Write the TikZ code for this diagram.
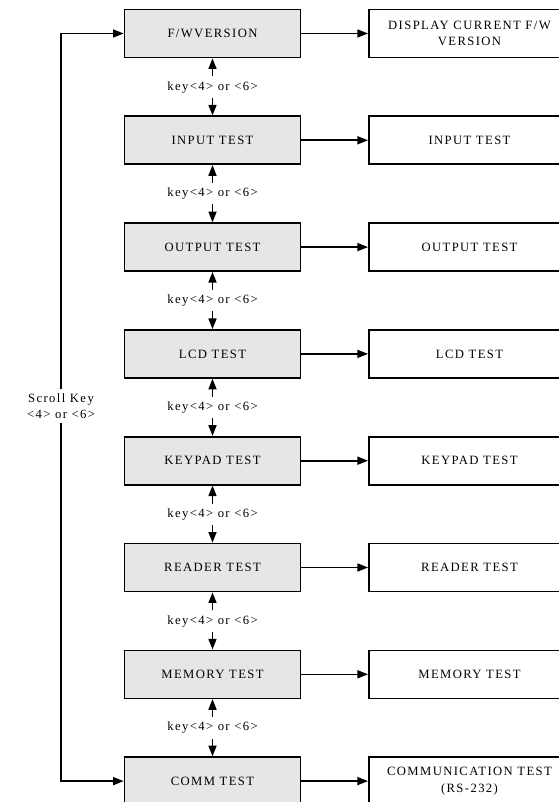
\documentclass[tikz,border=0pt]{standalone}
\usepackage{fontspec}
\setmainfont{Liberation Serif}[LetterSpace=11]
\usetikzlibrary{arrows.meta}
\begin{document}
\begin{tikzpicture}[x=0.75pt,y=0.75pt,yscale=-1,xscale=1,
    testbox/.style={draw,line width=1.2pt,fill={rgb,255:red,230;green,230;blue,230},minimum width=132pt,minimum height=36pt,inner sep=0pt,font=\fontsize{9.5}{11}\selectfont},
    resultbox/.style={draw,line width=1.2pt,fill=white,minimum width=151pt,minimum height=36pt,inner sep=0pt,align=center,font=\fontsize{9.5}{12.5}\selectfont},
    keylabel/.style={inner sep=3.5pt,font=\fontsize{9.5}{11}\selectfont},
    tri/.style={-{Triangle[length=8pt,width=6pt]},line width=1.2pt}]
    \useasboundingbox (0,0) rectangle (559,802);
    \clip (0,0) rectangle (559,802);

    %Test menu boxes
    \node [testbox] (fw) at (212.5,33.5) {F/WVERSION};
    \node [testbox] (input) at (212.5,140.3) {INPUT TEST};
    \node [testbox] (output) at (212.5,247.1) {OUTPUT TEST};
    \node [testbox] (lcd) at (212.5,353.9) {LCD TEST};
    \node [testbox] (keypad) at (212.5,460.7) {KEYPAD TEST};
    \node [testbox] (reader) at (212.5,567.5) {READER TEST};
    \node [testbox] (memory) at (212.5,674.3) {MEMORY TEST};
    \node [testbox] (comm) at (212.5,781.1) {COMM TEST};

    %Result boxes
    \node [resultbox] (fwres) at (469.5,33.5) {DISPLAY CURRENT F/W\\VERSION};
    \node [resultbox] (inputres) at (469.5,140.3) {INPUT TEST};
    \node [resultbox] (outputres) at (469.5,247.1) {OUTPUT TEST};
    \node [resultbox] (lcdres) at (469.5,353.9) {LCD TEST};
    \node [resultbox] (keypadres) at (469.5,460.7) {KEYPAD TEST};
    \node [resultbox] (readerres) at (469.5,567.5) {READER TEST};
    \node [resultbox] (memoryres) at (469.5,674.3) {MEMORY TEST};
    \node [resultbox] (commres) at (469.5,781.1) {COMMUNICATION TEST\\(RS-232)};

    % Text Node
    \node [keylabel] (k1) at (212.5,87) {key<4> or <6>};
    \node [keylabel] (k2) at (212.5,193.8) {key<4> or <6>};
    \node [keylabel] (k3) at (212.5,300.6) {key<4> or <6>};
    \node [keylabel] (k4) at (212.5,407.4) {key<4> or <6>};
    \node [keylabel] (k5) at (212.5,514.2) {key<4> or <6>};
    \node [keylabel] (k6) at (212.5,621) {key<4> or <6>};
    \node [keylabel] (k7) at (212.5,727.8) {key<4> or <6>};
    % Text Node
    \node [keylabel,align=center,font=\fontsize{9.5}{12}\selectfont] (scroll) at (61,406) {Scroll Key\\<4> or <6>};

    %Straight Lines
    \draw [tri] (k1) -- (fw);
    \draw [tri] (k1) -- (input);
    \draw [tri] (k2) -- (input);
    \draw [tri] (k2) -- (output);
    \draw [tri] (k3) -- (output);
    \draw [tri] (k3) -- (lcd);
    \draw [tri] (k4) -- (lcd);
    \draw [tri] (k4) -- (keypad);
    \draw [tri] (k5) -- (keypad);
    \draw [tri] (k5) -- (reader);
    \draw [tri] (k6) -- (reader);
    \draw [tri] (k6) -- (memory);
    \draw [tri] (k7) -- (memory);
    \draw [tri] (k7) -- (comm);

    \draw [tri] (fw) -- (fwres);
    \draw [tri] (input) -- (inputres);
    \draw [tri] (output) -- (outputres);
    \draw [tri] (lcd) -- (lcdres);
    \draw [tri] (keypad) -- (keypadres);
    \draw [tri] (reader) -- (readerres);
    \draw [tri] (memory) -- (memoryres);
    \draw [tri] (comm) -- (commres);

    %Scroll key loop
    \draw [tri] (scroll.north) |- (fw.west);
    \draw [tri] (scroll.south) |- (comm.west);
\end{tikzpicture}
\end{document}
